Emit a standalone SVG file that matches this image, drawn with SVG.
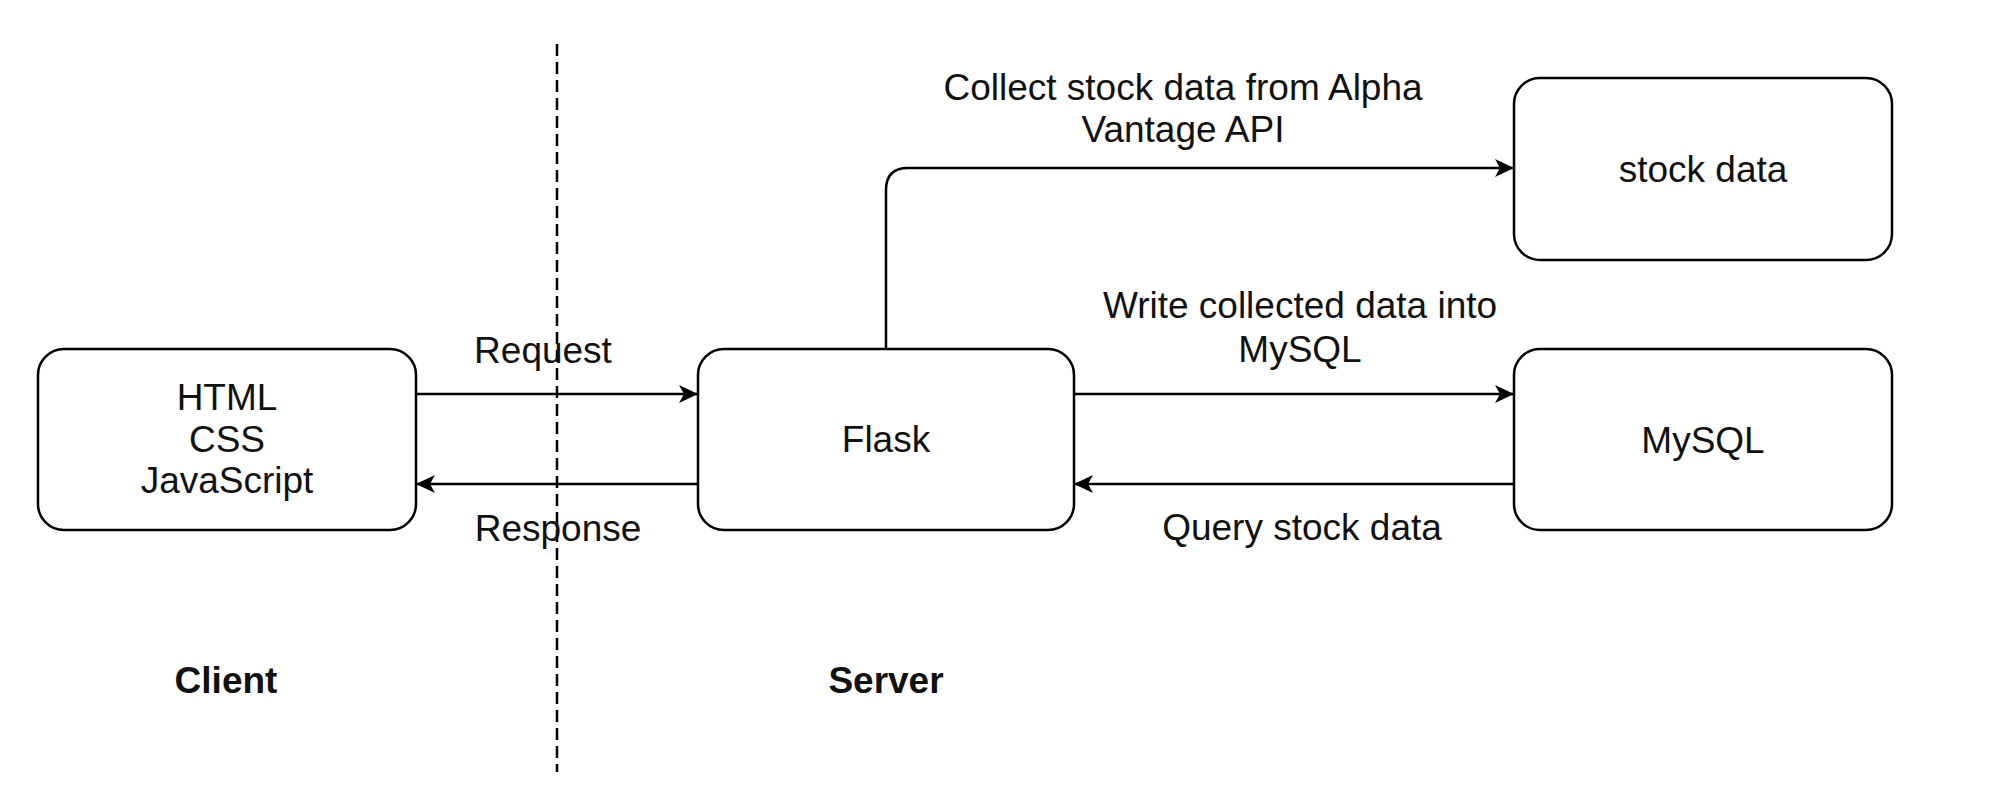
<svg xmlns="http://www.w3.org/2000/svg" width="1994" height="792" viewBox="0 0 1994 792">
<style>
.box{fill:#fff;stroke:#000;stroke-width:2.5}
.edge{fill:none;stroke:#000;stroke-width:2.5}
text{font-family:"Liberation Sans",Arial,Helvetica,sans-serif;font-size:37px;fill:#111;text-anchor:middle}
.bold{font-weight:bold}
</style>
<defs>
<marker id="arr" markerUnits="userSpaceOnUse" markerWidth="22" markerHeight="22" viewBox="0 0 22 22" refX="20" refY="11" orient="auto">
<path d="M1,2 L20,11 L1,20 L6,11 Z" fill="#000"/>
</marker>
</defs>
<rect width="1994" height="792" fill="#fff"/>
<line x1="557" y1="44" x2="557" y2="772" stroke="#000" stroke-width="2.5" stroke-dasharray="12 6"/>
<g id="connectors">
<path class="edge" d="M416,394 H698" marker-end="url(#arr)"/>
<path class="edge" d="M698,484 H416" marker-end="url(#arr)"/>
<path class="edge" d="M1074,394 H1514" marker-end="url(#arr)"/>
<path class="edge" d="M1514,484 H1074" marker-end="url(#arr)"/>
<path class="edge" d="M886,349 V190 Q886,168 908,168 H1514" marker-end="url(#arr)"/>
<text x="543" y="363">Request</text>
<text x="558" y="541">Response</text>
<text x="1183" y="100">Collect stock data from Alpha</text>
<text x="1183" y="142">Vantage API</text>
<text x="1300" y="318">Write collected data into</text>
<text x="1300" y="362">MySQL</text>
<text x="1302" y="540">Query stock data</text>
</g>
<g id="client">
<rect class="box" x="38" y="349" width="378" height="181" rx="26" ry="26"/>
<text x="227" y="410">HTML</text>
<text x="227" y="452">CSS</text>
<text x="227" y="493">JavaScript</text>
</g>
<g id="flask">
<rect class="box" x="698" y="349" width="376" height="181" rx="26" ry="26"/>
<text x="886" y="452">Flask</text>
</g>
<g id="mysql">
<rect class="box" x="1514" y="349" width="378" height="181" rx="26" ry="26"/>
<text x="1703" y="453">MySQL</text>
</g>
<g id="stockdata">
<rect class="box" x="1514" y="78" width="378" height="182" rx="26" ry="26"/>
<text x="1703" y="182">stock data</text>
</g>
<g id="client-label"><text class="bold" x="226" y="693">Client</text></g>
<g id="server-label"><text class="bold" x="886" y="693">Server</text></g>
</svg>
